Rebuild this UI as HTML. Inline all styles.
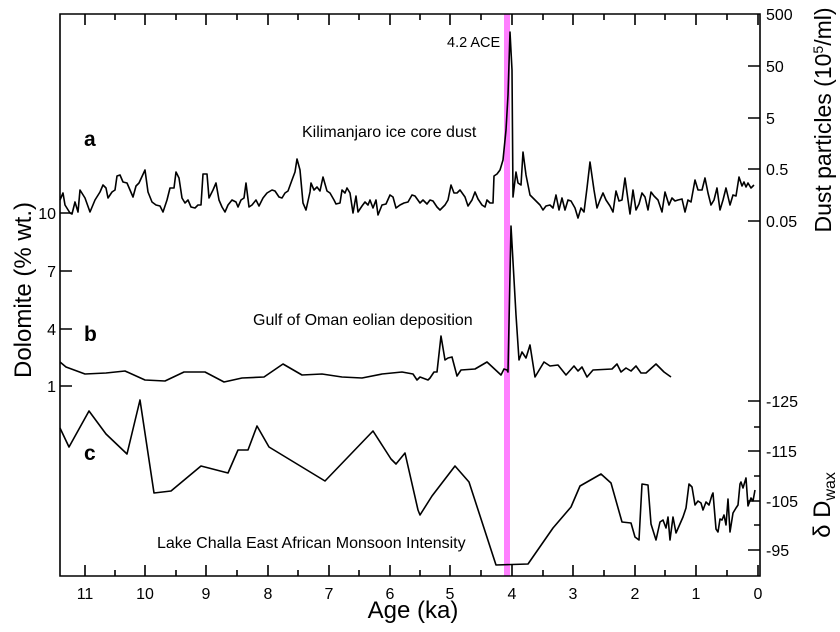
<!DOCTYPE html>
<html><head><meta charset="utf-8"><style>
html,body{margin:0;padding:0;background:#fff}
svg{display:block}
text{font-family:"Liberation Sans",sans-serif;fill:#000}
</style></head><body>
<svg width="840" height="632" viewBox="0 0 840 632">
<rect x="504" y="14" width="6" height="562" fill="#ff80ff"/>
<g fill="none" stroke="#000" stroke-width="1.6" stroke-linejoin="round">
<polyline points="60,200 63,193 65,205 70,213 72,214 75,202 78,212 80,190 85,198 90,212 95,200 100,192 103,185 106,188 108,198 112,192 115,190 117,176 120,175 123,182 127,183 130,190 133,197 136,186 139,183 145,170 148,192 152,202 156,205 160,206 163,212 167,200 170,188 174,188 176,172 179,178 182,198 185,203 188,200 191,207 195,208 198,205 201,205 203,174 207,174 209,198 213,190 216,183 219,200 222,207 225,212 228,205 232,200 236,202 238,207 241,200 244,198 246,183 249,207 252,205 256,200 259,206 263,198 267,193 272,190 275,191 279,197 282,198 285,193 288,191 292,180 295,172 297,159 300,170 303,203 306,210 310,192 311,183 314,190 317,187 320,191 323,177 327,191 330,193 334,200 336,204 340,203 342,190 345,193 347,188 350,193 353,213 356,196 358,212 362,206 365,202 368,205 370,200 373,208 376,200 378,215 382,205 386,204 390,195 393,197 396,208 400,205 404,203 408,202 412,195 415,196 420,203 423,200 427,204 430,200 433,201 437,207 440,210 445,205 448,200 451,185 454,193 457,193 460,190 465,197 468,206 472,200 475,192 478,199 482,205 485,207 487,200 490,203 493,203 494,176 497,174 500,170 503,160 506,130 508,95 510,32 512,70 513,197 516,172 518,183 521,185 523,152 526,175 530,195 535,200 540,205 543,210 546,206 550,205 553,208 556,195 559,210 562,198 565,210 568,200 571,201 575,208 578,218 581,208 584,212 587,188 590,162 594,190 597,208 600,200 603,193 606,200 610,206 613,212 616,191 619,201 622,200 625,178 628,200 630,214 633,190 636,210 639,204 642,193 645,197 648,210 651,192 654,196 658,200 662,212 665,192 669,205 672,198 675,201 678,200 682,199 685,212 688,200 691,202 695,180 698,190 702,190 705,178 708,193 711,205 714,200 717,188 720,210 723,200 726,188 730,205 733,195 736,196 739,177 742,186 744,182 746,187 748,183 751,188 754,185"/>
<polyline points="60,362 66,367 85,374 106,373 125,371 145,380 165,381 184,372 205,372 224,382 242,378 264,377 283,364 302,375 322,374 342,377 362,378 382,374 402,372 413,374 417,380 420,377 428,380 430,378 434,372 437,372 441,336 445,360 448,358 452,357 457,376 461,370 475,369 487,362 501,375 504,369 507,370 508,372 511,226 516,315 519,360 522,352 526,358 530,345 535,377 544,362 550,366 558,365 566,375 574,366 578,371 582,367 587,377 593,370 612,369 617,364 621,372 626,368 631,371 636,366 641,373 646,373 656,364 664,372 671,377"/>
<polyline points="60,428 69,447 89,411 106,434 127,454 140,400 154,493 171,491 201,466 228,473 238,450 248,450 257,426 269,447 325,481 373,431 391,459 396,464 405,453 418,510 420,515 432,496 455,466 469,482 496,565 528,564 553,528 571,507 580,486 601,474 611,483 622,522 631,523 635,537 639,540 642,484 648,485 651,524 656,540 660,522 663,520 666,528 668,517 670,540 673,517 676,533 683,517 686,508 689,484 692,487 695,505 698,501 701,503 703,510 706,502 709,505 712,495 713,493 716,529 718,532 720,519 722,520 724,515 726,525 728,499 730,532 733,513 736,508 738,505 740,484 741,482 743,488 746,478 748,506 751,498 753,501 755,490"/>
</g>
<g stroke="#000" stroke-width="1.6" fill="none">
<path d="M60,14 H760 V576 H60 Z"/>
<path d="M85,576v-11M145,576v-11M206,576v-11M268,576v-11M329,576v-11M390,576v-11M450,576v-11M512,576v-11M573,576v-11M635,576v-11M696,576v-11M758,576v-11"/>
<path d="M115,576v-6M176,576v-6M237,576v-6M298,576v-6M359,576v-6M420,576v-6M481,576v-6M543,576v-6M604,576v-6M665,576v-6M727,576v-6"/>
<path d="M85,14v11M145,14v11M206,14v11M268,14v11M329,14v11M390,14v11M450,14v11M512,14v11M573,14v11M635,14v11M696,14v11M758,14v11"/>
<path d="M115,14v6M176,14v6M237,14v6M298,14v6M359,14v6M420,14v6M481,14v6M543,14v6M604,14v6M665,14v6M727,14v6"/>
<path d="M60,213h12M60,271h12M60,329h12M60,386h12"/>
<path d="M760,66h-12M760,118h-12M760,169h-12M760,221h-12"/>
<path d="M760,401h-12M760,451h-12M760,501h-12M760,550h-12M760,427h-6M760,476h-6M760,525h-6"/>
</g>
<g font-size="16" text-anchor="middle">
<text x="85" y="599">11</text><text x="145" y="599">10</text><text x="206" y="599">9</text><text x="268" y="599">8</text><text x="329" y="599">7</text><text x="390" y="599">6</text><text x="450" y="599">5</text><text x="512" y="599">4</text><text x="573" y="599">3</text><text x="635" y="599">2</text><text x="696" y="599">1</text><text x="758" y="599">0</text>
</g>
<g font-size="16" text-anchor="end">
<text x="56" y="219">10</text><text x="56" y="277">7</text><text x="56" y="335">4</text><text x="56" y="392">1</text>
</g>
<g font-size="16">
<text x="766" y="20">500</text><text x="766" y="72">50</text><text x="766" y="124">5</text><text x="766" y="175">0.5</text><text x="766" y="227">0.05</text>
<text x="766" y="407">-125</text><text x="766" y="457">-115</text><text x="766" y="507">-105</text><text x="766" y="556">-95</text>
</g>
<text x="413" y="618" font-size="24" text-anchor="middle">Age (ka)</text>
<text transform="translate(31,290) rotate(-90)" font-size="24" text-anchor="middle">Dolomite (% wt.)</text>
<text transform="translate(831,120) rotate(-90)" font-size="23" text-anchor="middle">Dust particles (10<tspan font-size="14" dy="-8">5</tspan><tspan dy="8">/ml)</tspan></text>
<text transform="translate(830,505) rotate(-90)" font-size="24" text-anchor="middle">δ D<tspan font-size="16" dy="5">wax</tspan></text>
<g font-size="14.5">
<text x="447" y="47">4.2 ACE</text>
</g>
<g font-size="16">
<text x="302" y="137">Kilimanjaro ice core dust</text>
<text x="253" y="325">Gulf of Oman eolian deposition</text>
<text x="157" y="548">Lake Challa East African Monsoon Intensity</text>
</g>
<g font-size="21" font-weight="bold">
<text x="84" y="146">a</text><text x="84" y="341">b</text><text x="84" y="460">c</text>
</g>
</svg>
</body></html>
